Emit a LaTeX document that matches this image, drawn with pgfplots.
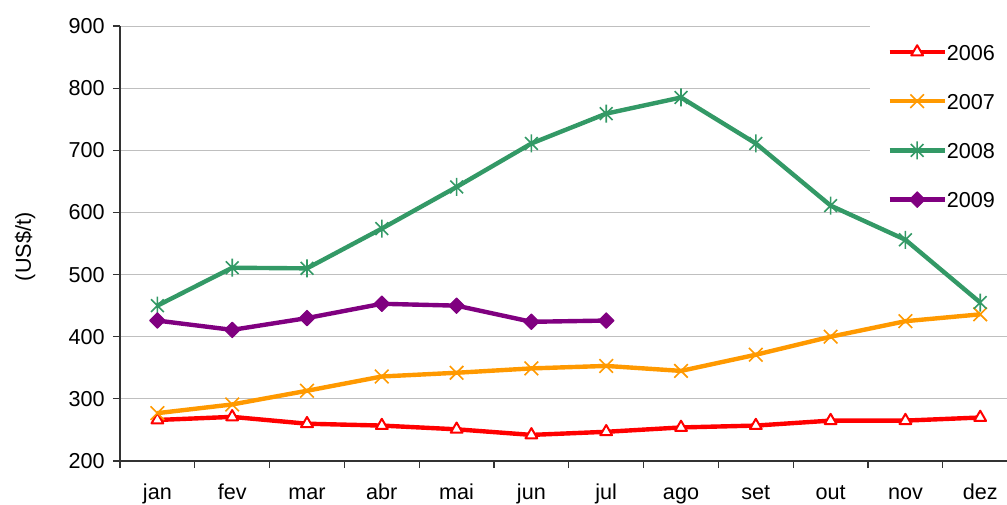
\documentclass[border=0pt]{standalone}
\usepackage{fontspec}
\setmainfont{Liberation Sans}
\usepackage{pgfplots}
\pgfplotsset{compat=1.18}
\definecolor{c06}{HTML}{FF0000}
\definecolor{c07}{HTML}{FF9900}
\definecolor{c08}{HTML}{339966}
\definecolor{c09}{HTML}{800080}
\pgfdeclareplotmark{xstar}{%
 \pgfpathmoveto{\pgfqpoint{-.7071\pgfplotmarksize}{-.7071\pgfplotmarksize}}%
 \pgfpathlineto{\pgfqpoint{.7071\pgfplotmarksize}{.7071\pgfplotmarksize}}%
 \pgfpathmoveto{\pgfqpoint{-.7071\pgfplotmarksize}{.7071\pgfplotmarksize}}%
 \pgfpathlineto{\pgfqpoint{.7071\pgfplotmarksize}{-.7071\pgfplotmarksize}}%
 \pgfpathmoveto{\pgfqpoint{0pt}{-\pgfplotmarksize}}%
 \pgfpathlineto{\pgfqpoint{0pt}{\pgfplotmarksize}}%
 \pgfusepathqstroke}
\begin{document}
\fontsize{10.8}{13}\selectfont
\begin{tikzpicture}
\begin{axis}[
 at={(0,0)}, anchor=south west,
 scale only axis, width=443.5pt, height=217.5pt,
 xmin=-0.5, xmax=11.358, ymin=200, ymax=900,
 axis x line*=bottom, axis y line*=left,
 axis line style={-, draw=black!80, line width=0.6pt},
 tick align=outside, major tick length=3.5pt, minor tick length=3.5pt,
 xtick={0,...,11},
 xticklabels={jan,fev,mar,abr,mai,jun,jul,ago,set,out,nov,dez},
 minor xtick={-0.5,0.5,...,10.5},
 ytick={200,300,...,900},
 tick style={draw=black!80, line width=0.6pt},
 major x tick style={draw=none},
 ymajorgrids=true, xmajorgrids=false,
 grid style={draw=black!25, line width=0.5pt},
 /pgf/number format/assume math mode=true,
 ticklabel style={font=\fontsize{10.8}{13}\selectfont},
 xticklabel style={inner sep=0pt, text height=8pt, text depth=2.5pt, anchor=north, yshift=-7.5pt},
 yticklabel style={inner sep=0pt, anchor=east, xshift=-4pt},
 ylabel={(US\$/t)},
 ylabel style={at={(axis description cs:-0.1071,0.492)}, anchor=center, font=\fontsize{10.8}{13}\selectfont},
 legend cell align=left,
 legend style={at={(axis description cs:0.8456,0.5678)}, anchor=south west,
   draw=none, fill=white, inner xsep=8.5pt, inner ysep=1pt, row sep=12.6pt,
   column sep=0pt, font=\fontsize{10.8}{13}\selectfont,
   nodes={inner sep=0pt, text height=8pt, text depth=0pt}},
 legend image code/.code={\path[draw=none,fill=none] (0pt,-6pt) rectangle (27.5pt,6pt);
   \draw[mark repeat=2,mark phase=2,#1] plot coordinates {(0pt,0pt) (13.75pt,0pt) (27.5pt,0pt)};},
]
\addlegendimage{empty legend}
\addlegendentry{}
\addplot[c06, line width=2.2pt, line join=round, mark=triangle*, mark size=3.4pt,
  mark options={solid, fill=white, draw=c06, line width=1pt}] coordinates {
 (0,266) (1,271) (2,260) (3,257) (4,251) (5,242) (6,247) (7,254) (8,257) (9,265) (10,265) (11,270)};
\addlegendentry{2006}
\addplot[c07, line width=2.2pt, line join=round, mark=x, mark size=4.8pt,
  mark options={solid, draw=c07, line width=0.8pt}] coordinates {
 (0,277) (1,291) (2,313) (3,336) (4,342) (5,349) (6,353) (7,345) (8,371) (9,400) (10,425) (11,436)};
\addlegendentry{2007}
\addplot[c08, line width=2.2pt, line join=round, mark=xstar, mark size=4.5pt,
  mark options={solid, draw=c08, line width=0.8pt}] coordinates {
 (0,450) (1,511) (2,510) (3,574) (4,641) (5,711) (6,759) (7,785) (8,711) (9,611) (10,556) (11,455)};
\addlegendentry{2008}
\addplot[c09, line width=2.2pt, line join=round, mark=square*, mark size=2.75pt,
  mark options={solid, rotate=45, fill=c09, draw=c09, line width=0.5pt}] coordinates {
 (0,426) (1,411) (2,430) (3,453) (4,450) (5,424) (6,426)};
\addlegendentry{2009}
\end{axis}
\pgfresetboundingbox
\useasboundingbox (-60pt,-21.5pt) rectangle (443.5pt,230.5pt);
\end{tikzpicture}
\end{document}
